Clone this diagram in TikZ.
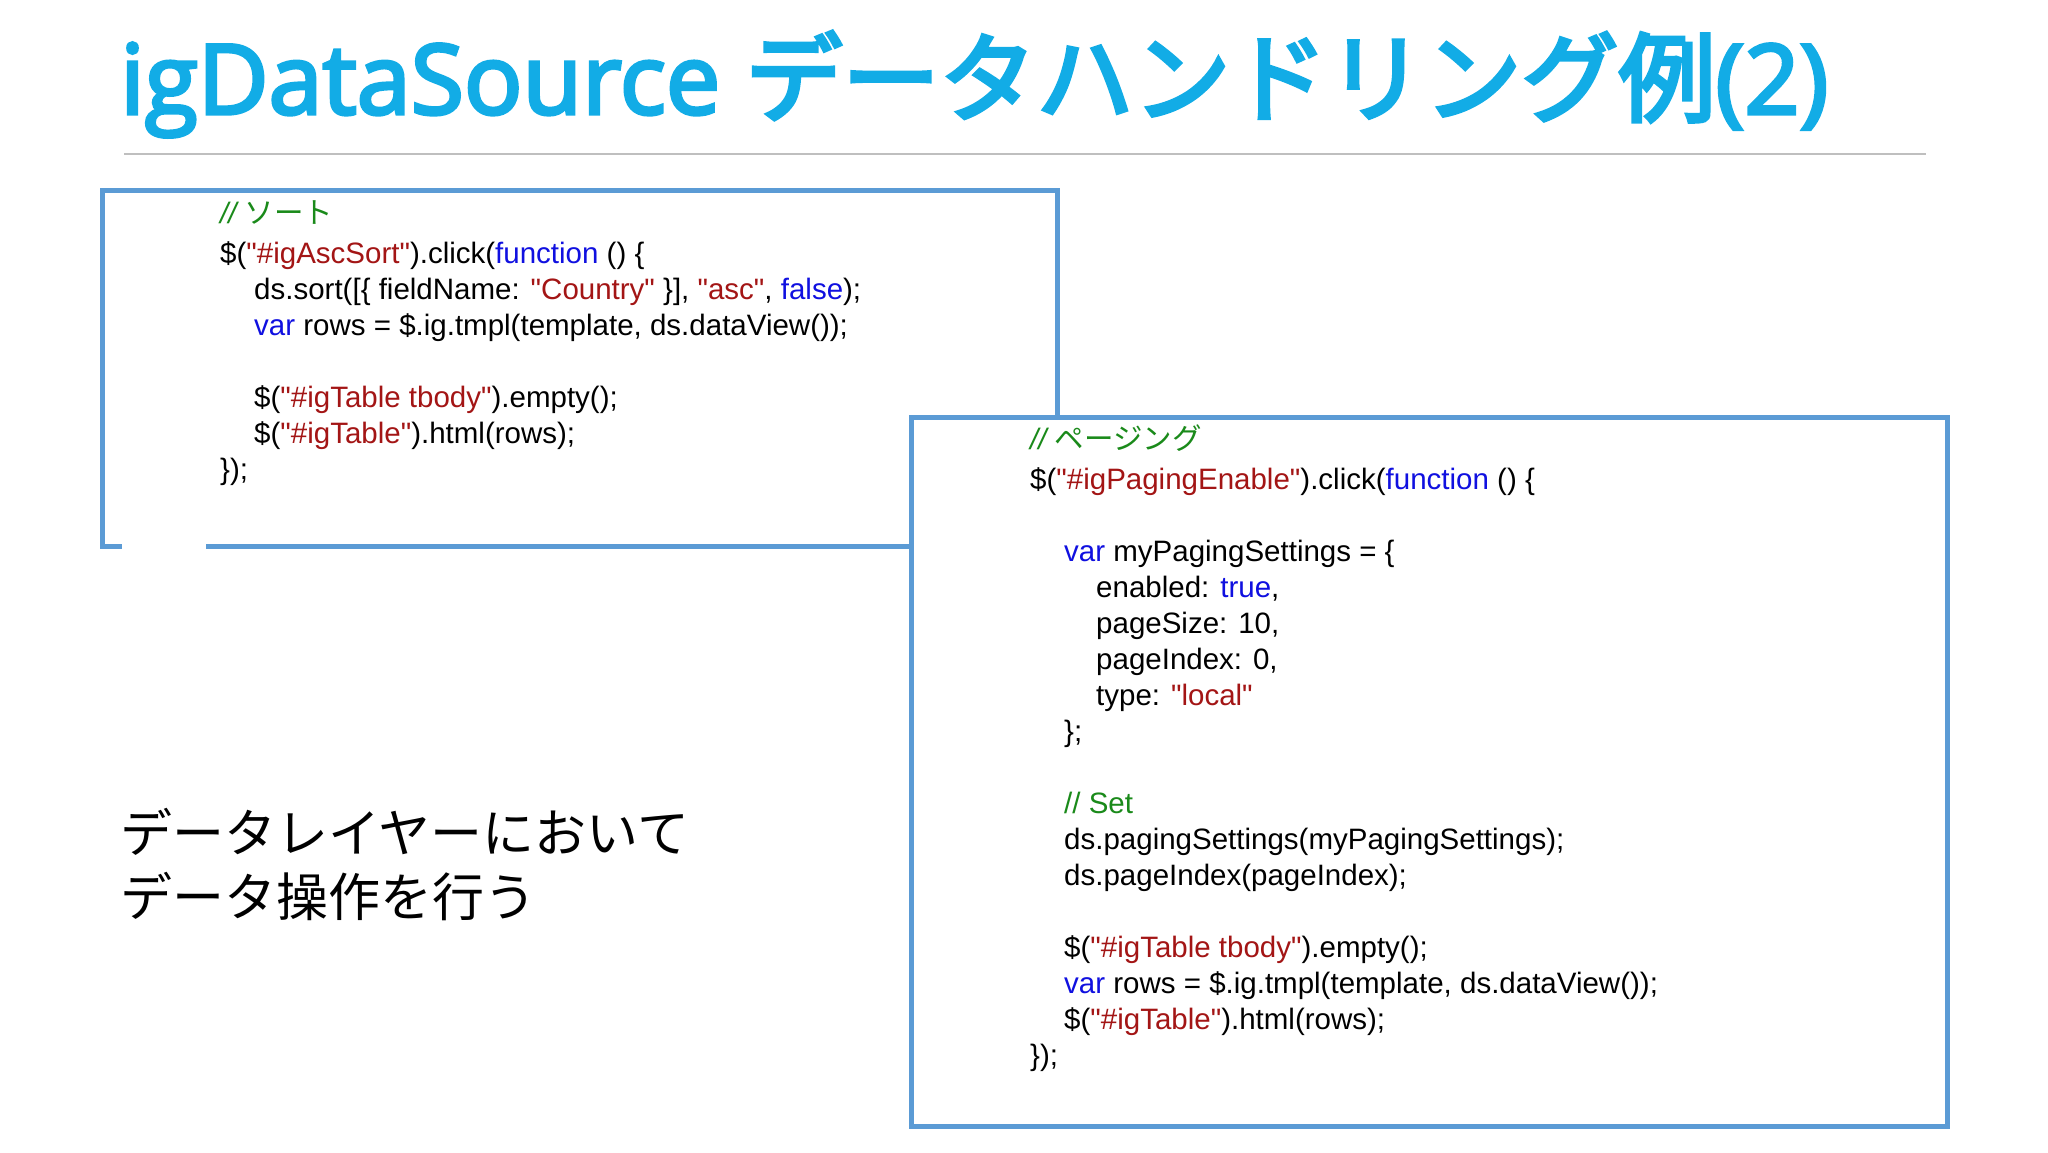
\documentclass[tikz,border=0pt]{standalone}
\usepackage{fontspec}
\setmainfont{Liberation Sans}
\newfontfamily\cjk{Noto Sans CJK JP}
\newfontfamily\cjkb{Noto Sans CJK JP}[FakeBold=4]
\newfontfamily\ttl{Open Sans}[FakeBold=3.5]
\definecolor{ttlc}{HTML}{12ACE6}
\definecolor{boxc}{HTML}{5B9BD5}
\definecolor{cm}{HTML}{1A8A1A}
\definecolor{st}{HTML}{A31515}
\definecolor{kw}{HTML}{1010E0}
\newcommand{\q}{\textquotedbl}
\newcommand{\Str}[1]{\textcolor{st}{#1}}
\newcommand{\Kw}[1]{\textcolor{kw}{#1}}
\tikzset{code/.style={anchor=base west,inner sep=0pt,font=\fontsize{29.5}{34}\selectfont},
 frame/.style={draw=boxc,line width=5pt}}
\begin{document}
\begin{tikzpicture}[x=1pt,y=-1pt]
\useasboundingbox (0,0) rectangle (2048,1152);
\node[anchor=base west,inner sep=0pt,text=ttlc,font=\fontsize{97}{100}\selectfont] (title) at (120,114) {\ttl igDataSource \cjkb データハンドリング例\ttl(2)};
\draw[gray!50,line width=1.5pt] (124,154) coordinate (la) -- (1926,154) coordinate (lb);
% box1
\draw[frame] (206,546) -- (1057,546) -- (1057,190) -- (102,190) -- (102,546) -- (122,546);
\node[code] (a1) at (220,223) {\textcolor{cm}{\itshape // \cjk ソート}};
\node[code] (a2) at (220,263) {\$(\Str{\q\#igAscSort\q}).click(\Kw{function} () \{};
\node[code] (a3) at (254,299) {ds.sort([\{ fieldName: \Str{\q Country\q} \}], \Str{\q asc\q}, \Kw{false});};
\node[code] (a4) at (254,335) {\Kw{var} rows = \$.ig.tmpl(template, ds.dataView());};
\node[code] (a5) at (254,407) {\$(\Str{\q\#igTable tbody\q}).empty();};
\node[code] (a6) at (254,443) {\$(\Str{\q\#igTable\q}).html(rows);};
\node[code] (a7) at (220,479) {\});};
% box2
\draw[frame,fill=white] (911,417) rectangle (1947,1126);
\node[code] (b1) at (1030,449) {\textcolor{cm}{\itshape // \cjk ページング}};
\node[code] (b2) at (1030,489) {\$(\Str{\q\#igPagingEnable\q}).click(\Kw{function} () \{};
\node[code] (b3) at (1064,561) {\Kw{var} myPagingSettings = \{};
\node[code] (b4) at (1096,597) {enabled: \Kw{true},};
\node[code] (b5) at (1096,633) {pageSize: 10,};
\node[code] (b6) at (1096,669) {pageIndex: 0,};
\node[code] (b7) at (1096,705) {type: \Str{\q local\q}};
\node[code] (b8) at (1064,741) {\};};
\node[code] (b9) at (1064,813) {\textcolor{cm}{// Set}};
\node[code] (b10) at (1064,849) {ds.pagingSettings(myPagingSettings);};
\node[code] (b11) at (1064,885) {ds.pageIndex(pageIndex);};
\node[code] (b12) at (1064,957) {\$(\Str{\q\#igTable tbody\q}).empty();};
\node[code] (b13) at (1064,993) {\Kw{var} rows = \$.ig.tmpl(template, ds.dataView());};
\node[code] (b14) at (1064,1029) {\$(\Str{\q\#igTable\q}).html(rows);};
\node[code] (b15) at (1030,1065) {\});};
% note
\node[anchor=base west,inner sep=0pt,align=left,font=\cjk\fontsize{52}{64}\selectfont] (note) at (120,916) {データレイヤーにおいて\\データ操作を行う};
\end{tikzpicture}
\end{document}
